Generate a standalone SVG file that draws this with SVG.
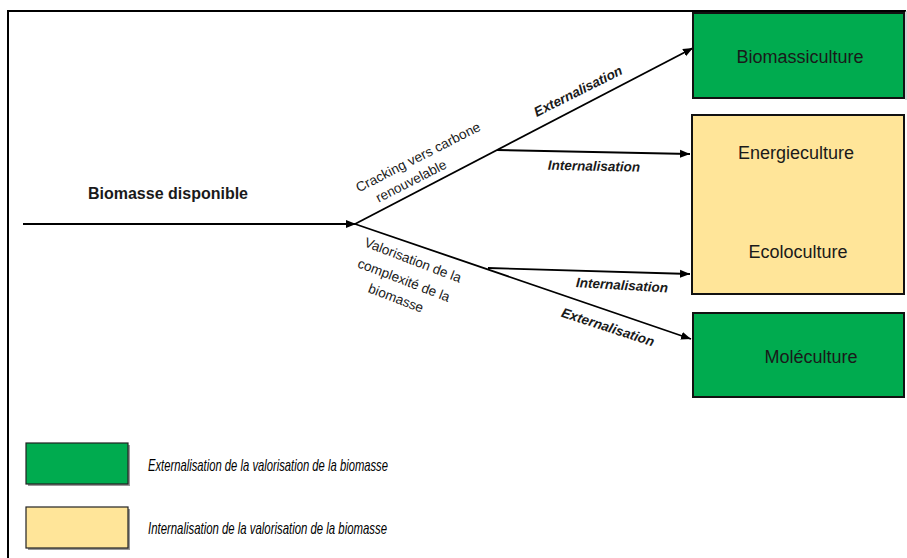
<svg xmlns="http://www.w3.org/2000/svg" width="907" height="558" viewBox="0 0 907 558">
<defs>
<marker id="ah" viewBox="0 0 10 10" refX="10" refY="5" markerWidth="10" markerHeight="10" markerUnits="userSpaceOnUse" orient="auto">
<path d="M0,1 L10,5 L0,9 Z" fill="#000"/>
</marker>
</defs>
<style>
.box{stroke:#111;stroke-width:2}
.ext{fill:#00AB4F}
.int{fill:#FFE599}
.conn{stroke:#000;stroke-width:1.8;fill:none}
.t{font-family:"Liberation Sans",Arial,sans-serif;fill:#1a1a1a}
.bt{font-size:18px;text-anchor:middle}
.lbl{font-size:13.5px;text-anchor:middle}
.bi{font-size:13.5px;font-weight:bold;font-style:italic;text-anchor:middle}
.leg{font-size:17px;font-style:italic;fill:#000}
</style>
<rect width="907" height="558" fill="#fff"/>
<g id="frame">
<line x1="8" y1="11" x2="906" y2="11" stroke="#000" stroke-width="2"/>
<line x1="8" y1="10" x2="8" y2="558" stroke="#000" stroke-width="2"/>
<line x1="906" y1="11" x2="906" y2="100" stroke="#aaa" stroke-width="1"/>
</g>
<g id="connectors">
<line class="conn" x1="23" y1="224" x2="356" y2="224" marker-end="url(#ah)"/>
<line class="conn" x1="355" y1="224" x2="693" y2="48" marker-end="url(#ah)"/>
<line class="conn" x1="497" y1="150" x2="690" y2="154" marker-end="url(#ah)"/>
<line class="conn" x1="355" y1="224" x2="691" y2="339" marker-end="url(#ah)"/>
<line class="conn" x1="488" y1="268" x2="690" y2="274" marker-end="url(#ah)"/>
</g>
<g id="labels">
<text class="t" x="168" y="199" font-size="16" font-weight="bold" text-anchor="middle">Biomasse disponible</text>
<text class="t lbl" transform="translate(418,157) rotate(-27)" dy="0.35em" textLength="138" lengthAdjust="spacingAndGlyphs">Cracking vers carbone</text>
<text class="t lbl" transform="translate(411,181) rotate(-27)" dy="0.35em">renouvelable</text>
<text class="t bi" transform="translate(578,91) rotate(-26.6)" dy="0.35em">Externalisation</text>
<text class="t bi" transform="translate(594,166) rotate(1.2)" dy="0.35em">Internalisation</text>
<text class="t lbl" transform="translate(413,260) rotate(21)" dy="0.35em">Valorisation de la</text>
<text class="t lbl" transform="translate(404,280) rotate(21)" dy="0.35em">complexité de la</text>
<text class="t lbl" transform="translate(396,298) rotate(21)" dy="0.35em">biomasse</text>
<text class="t bi" transform="translate(622,285) rotate(3.5)" dy="0.35em">Internalisation</text>
<text class="t bi" transform="translate(608,327) rotate(18)" dy="0.35em">Externalisation</text>
</g>
<g id="node-biomassiculture">
<rect class="box ext" x="693" y="13" width="211" height="85"/>
<text class="t bt" x="800" y="63">Biomassiculture</text>
</g>
<g id="node-energie-ecolo">
<rect class="box int" x="692" y="115" width="212" height="179"/>
<text class="t bt" x="796" y="159">Energieculture</text>
<text class="t bt" x="798" y="258">Ecoloculture</text>
</g>
<g id="node-moleculture">
<rect class="box ext" x="693" y="313" width="211" height="84"/>
<text class="t bt" x="811" y="363">Moléculture</text>
</g>
<g id="legend-ext">
<rect x="28" y="445" width="102" height="41" fill="#999"/>
<rect x="26" y="443" width="102" height="41" class="ext" stroke="#222" stroke-width="1.2"/>
<text class="t leg" x="148" y="471" textLength="240" lengthAdjust="spacingAndGlyphs">Externalisation de la valorisation de la biomasse</text>
</g>
<g id="legend-int">
<rect x="28" y="509" width="102" height="41" fill="#999"/>
<rect x="26" y="507" width="102" height="41" class="int" stroke="#222" stroke-width="1.2"/>
<text class="t leg" x="148" y="534" textLength="239" lengthAdjust="spacingAndGlyphs">Internalisation de la valorisation de la biomasse</text>
</g>
</svg>
